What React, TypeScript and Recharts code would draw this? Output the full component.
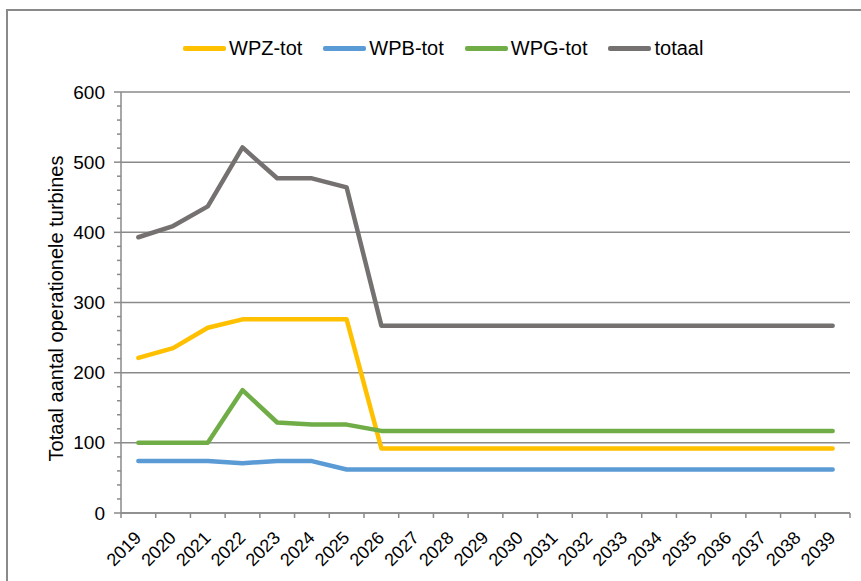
import { LineChart, Line, XAxis, YAxis, CartesianGrid } from "recharts";

const years = [
  "2019", "2020", "2021", "2022", "2023", "2024", "2025", "2026", "2027", "2028", "2029",
  "2030", "2031", "2032", "2033", "2034", "2035", "2036", "2037", "2038", "2039",
];
const wpzTot = [221, 235, 264, 276, 276, 276, 276, 92, 92, 92, 92, 92, 92, 92, 92, 92, 92, 92, 92, 92, 92];
const wpbTot = [74, 74, 74, 71, 74, 74, 62, 62, 62, 62, 62, 62, 62, 62, 62, 62, 62, 62, 62, 62, 62];
const wpgTot = [100, 100, 100, 175, 129, 126, 126, 117, 117, 117, 117, 117, 117, 117, 117, 117, 117, 117, 117, 117, 117];
const totaal = [393, 409, 437, 521, 477, 477, 464, 267, 267, 267, 267, 267, 267, 267, 267, 267, 267, 267, 267, 267, 267];

const yMajor = [0, 100, 200, 300, 400, 500, 600];
const yMinorStep = 20;

const series = [
  { key: "wpz", name: "WPZ-tot", color: "#FFC000" },
  { key: "wpb", name: "WPB-tot", color: "#5B9BD5" },
  { key: "wpg", name: "WPG-tot", color: "#70AD47" },
  { key: "totaal", name: "totaal", color: "#767171" },
];

const data = years.map((year, i) => ({
  year,
  wpz: wpzTot[i],
  wpb: wpbTot[i],
  wpg: wpgTot[i],
  totaal: totaal[i],
}));

// minor ticks every 20 between the labelled ones
const yTicks: number[] = [];
for (let v = 0; v <= 600; v += yMinorStep) yTicks.push(v);

const FONT = "'Liberation Sans', Arial, sans-serif";
const AXIS = "#8a8a8a";
const PLOT_LEFT = 121;
const PLOT_RIGHT = 850;
const BAND = (PLOT_RIGHT - PLOT_LEFT) / years.length;

const YTick = (props: any) => {
  const { x, y, payload } = props;
  const major = payload.value % 100 === 0;
  return (
    <g>
      <line x1={x - (major ? 7 : 4)} x2={x} y1={y} y2={y} stroke={AXIS} strokeWidth={1.5} />
      {major && (
        <text x={x - 16} y={y} dy="0.35em" textAnchor="end" fontSize={19} fontFamily={FONT} fill="#000">
          {payload.value}
        </text>
      )}
    </g>
  );
};

const XTick = (props: any) => {
  const { x, y, payload, index } = props;
  const left = x - BAND / 2;
  const tx = x + 4;
  const ty = y + 26;
  return (
    <g>
      <line x1={left} x2={left} y1={y} y2={y + 5} stroke={AXIS} strokeWidth={1.5} />
      {index === years.length - 1 && (
        <line x1={x + BAND / 2} x2={x + BAND / 2} y1={y} y2={y + 5} stroke={AXIS} strokeWidth={1.5} />
      )}
      <text
        x={tx}
        y={ty}
        textAnchor="end"
        fontSize={18}
        fontFamily={FONT}
        fill="#000"
        transform={`rotate(-45 ${tx} ${ty})`}
      >
        {payload.value}
      </text>
    </g>
  );
};

const YLabel = (props: any) => {
  const vb = props.viewBox;
  const cx = vb.x + 56;
  const cy = vb.y + vb.height / 2 + 6;
  return (
    <text
      x={cx}
      y={cy}
      textAnchor="middle"
      dominantBaseline="central"
      fontSize={20}
      fontFamily={FONT}
      fill="#000"
      transform={`rotate(-90 ${cx} ${cy})`}
    >
      Totaal aantal operationele turbines
    </text>
  );
};

export default function App() {
  return (
    <div
      style={{
        position: "fixed",
        left: 0,
        top: 0,
        width: 861,
        height: 581,
        overflow: "hidden",
        background: "#fff",
      }}
    >
      <div
        style={{
          position: "absolute",
          left: 183,
          top: 37,
          display: "flex",
          alignItems: "center",
          fontFamily: FONT,
          fontSize: 20,
          color: "#000",
        }}
      >
        {series.map((s) => (
          <div key={s.key} style={{ display: "flex", alignItems: "center", marginRight: 21 }}>
            <span style={{ width: 43, height: 5, borderRadius: 2, background: s.color, marginRight: 3 }} />
            <span>{s.name}</span>
          </div>
        ))}
      </div>
      <LineChart
        width={861}
        height={581}
        data={data}
        margin={{ top: 92, right: 861 - PLOT_RIGHT, bottom: 0, left: 0 }}
        style={{ position: "absolute", left: 0, top: 0 }}
      >
        <CartesianGrid
          vertical={false}
          horizontalValues={yMajor}
          stroke={AXIS}
          strokeWidth={1.5}
        />
        <XAxis
          dataKey="year"
          height={68}
          interval={0}
          padding={{ left: BAND / 2, right: BAND / 2 }}
          stroke={AXIS}
          strokeWidth={1.5}
          tickLine={false}
          tickSize={0}
          tickMargin={0}
          tick={<XTick />}
        />
        <YAxis
          width={PLOT_LEFT}
          domain={[0, 600]}
          ticks={yTicks}
          interval={0}
          stroke={AXIS}
          strokeWidth={1.5}
          tickLine={false}
          tickSize={0}
          tickMargin={0}
          tick={<YTick />}
          label={{ content: <YLabel /> }}
        />
        {series.map((s) => (
          <Line
            key={s.key}
            type="linear"
            dataKey={s.key}
            name={s.name}
            stroke={s.color}
            strokeWidth={4.5}
            strokeLinecap="round"
            strokeLinejoin="round"
            dot={false}
            isAnimationActive={false}
          />
        ))}
      </LineChart>
      <div
        style={{
          position: "absolute",
          left: 6,
          top: 9,
          width: 900,
          height: 700,
          border: `2px solid ${AXIS}`,
          pointerEvents: "none",
        }}
      />
    </div>
  );
}
